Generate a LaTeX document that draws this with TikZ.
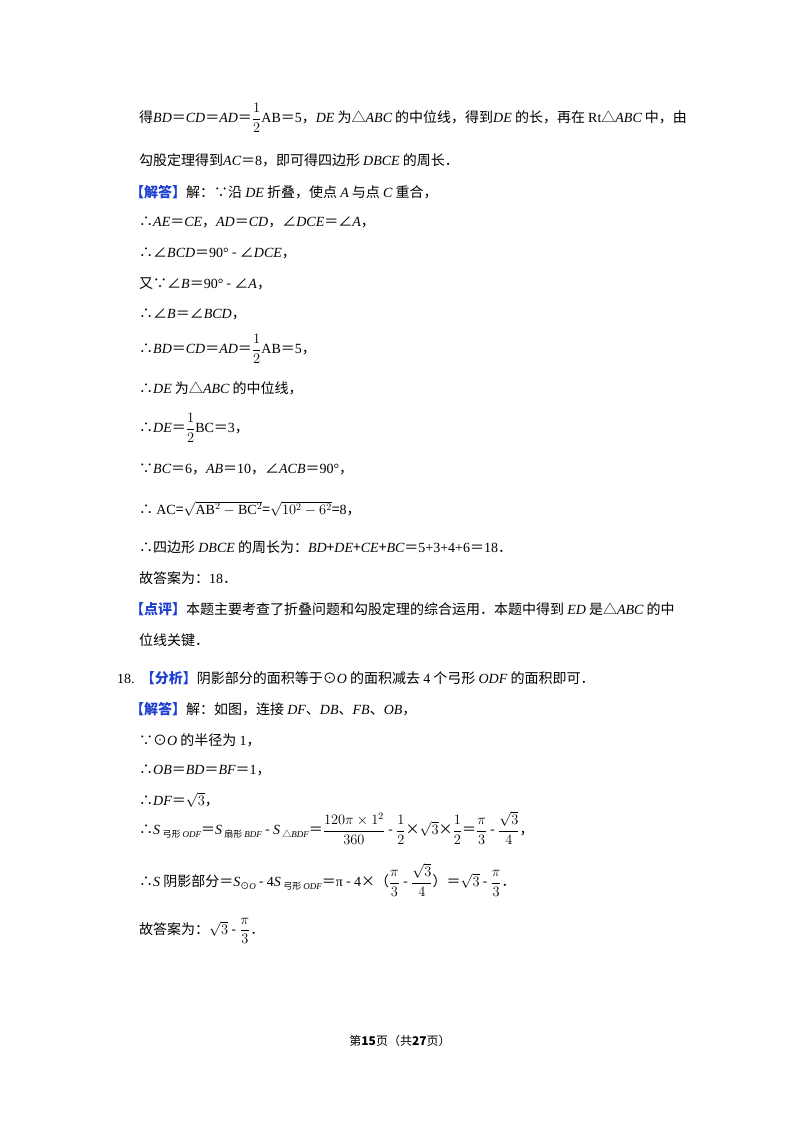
\documentclass[tikz,border=0pt]{standalone}
\usepackage{amsmath}
\usepackage{fontspec}
\setmainfont{Noto Sans CJK SC}
\newfontfamily\lib{Liberation Serif}
\newcommand{\m}[1]{{\lib\itshape #1}}
\newcommand{\nr}[1]{{\lib #1}}
\newcommand{\rt}[1]{\text{\lib #1}}
\newcommand{\lab}[1]{{\color{lbl}\bfseries 【#1】}}
\newcommand{\sbs}[1]{\raisebox{-0.4ex}{\fontsize{9}{9}\selectfont #1}}
\definecolor{lbl}{HTML}{1F3FCF}
\begin{document}
\begin{tikzpicture}[x=1pt,y=-1pt,
  ln/.style={anchor=west,inner sep=0pt,font=\fontsize{14}{16}\selectfont}]
\useasboundingbox (0,0) rectangle (800,1132);
\fill[white] (0,0) rectangle (800,1132);
\node[ln] (l1) at (139,118) {得\m{BD}＝\m{CD}＝\m{AD}＝$\dfrac{1}{2}$\nr{AB}＝\nr{5}，\m{DE} 为△\m{ABC} 的中位线，得到\m{DE} 的长，再在 \nr{Rt}△\m{ABC} 中，由};
\node[ln] (l2) at (139,160) {勾股定理得到\m{AC}＝\nr{8}，即可得四边形 \m{DBCE} 的周长．};
\node[ln] (l3) at (130,192) {\lab{解答}解：∵沿 \m{DE} 折叠，使点 \m{A} 与点 \m{C} 重合，};
\node[ln] (l4) at (139,222) {∴\m{AE}＝\m{CE}，\m{AD}＝\m{CD}，∠\m{DCE}＝∠\m{A}，};
\node[ln] (l5) at (139,253) {∴∠\m{BCD}＝\nr{90°} - ∠\m{DCE}，};
\node[ln] (l6) at (139,284) {又∵∠\m{B}＝\nr{90°} - ∠\m{A}，};
\node[ln] (l7) at (139,314) {∴∠\m{B}＝∠\m{BCD}，};
\node[ln] (l8) at (139,349) {∴\m{BD}＝\m{CD}＝\m{AD}＝$\dfrac{1}{2}$\nr{AB}＝\nr{5}，};
\node[ln] (l9) at (139,388) {∴\m{DE} 为△\m{ABC} 的中位线，};
\node[ln] (l10) at (139,428) {∴\m{DE}＝$\dfrac{1}{2}$\nr{BC}＝\nr{3}，};
\node[ln] (l11) at (139,469) {∵\m{BC}＝\nr{6}，\m{AB}＝\nr{10}，∠\m{ACB}＝\nr{90°}，};
\node[ln] (l12) at (139,509) {∴ \nr{AC}=$\sqrt{\rt{AB}^{2}-\rt{BC}^{2}}$=$\sqrt{10^2-6^2}$=\nr{8}，};
\node[ln] (l13) at (139,547) {∴四边形 \m{DBCE} 的周长为：\m{BD}+\m{DE}+\m{CE}+\m{BC}＝\nr{5+3+4+6}＝\nr{18}．};
\node[ln] (l14) at (139,578) {故答案为：\nr{18}．};
\node[ln] (l15) at (130,609) {\lab{点评}本题主要考查了折叠问题和勾股定理的综合运用．本题中得到 \m{ED} 是△\m{ABC} 的中};
\node[ln] (l16) at (139,640) {位线关键．};
\node[ln] (l17) at (117,678) {\nr{18.}\ \ \lab{分析}阴影部分的面积等于⊙\m{O} 的面积减去 \nr{4} 个弓形 \m{ODF} 的面积即可．};
\node[ln] (l18) at (130,709) {\lab{解答}解：如图，连接 \m{DF}、\m{DB}、\m{FB}、\m{OB}，};
\node[ln] (l19) at (139,740) {∵⊙\m{O} 的半径为 \nr{1}，};
\node[ln] (l20) at (139,770) {∴\m{OB}＝\m{BD}＝\m{BF}＝\nr{1}，};
\node[ln] (l21) at (139,800) {∴\m{DF}＝$\sqrt{3}$，};
\node[ln] (l22) at (139,828) {∴\m{S}\,\sbs{弓形 \m{ODF}}＝\m{S}\,\sbs{扇形 \m{BDF}} - \m{S}\,\sbs{△\m{BDF}}＝$\dfrac{120\pi\times1^2}{360}$ - $\dfrac{1}{2}$×$\sqrt{3}$×$\dfrac{1}{2}$＝$\dfrac{\pi}{3}$ - $\dfrac{\sqrt{3}}{4}$，};
\node[ln] (l23) at (139,880) {∴\m{S} 阴影部分＝\m{S}\sbs{⊙\m{O}} - \nr{4}\m{S}\,\sbs{弓形 \m{ODF}}＝\nr{π} - \nr{4}×（$\dfrac{\pi}{3}$ - $\dfrac{\sqrt{3}}{4}$）＝$\sqrt{3}$ - $\dfrac{\pi}{3}$．};
\node[ln] (l24) at (139,931) {故答案为：$\sqrt{3}$ - $\dfrac{\pi}{3}$．};
\node[anchor=center,inner sep=0pt,font=\fontsize{12}{14}\selectfont] (ft) at (400,1041) {第\textbf{15}页（共\textbf{27}页）};
\end{tikzpicture}
\end{document}
